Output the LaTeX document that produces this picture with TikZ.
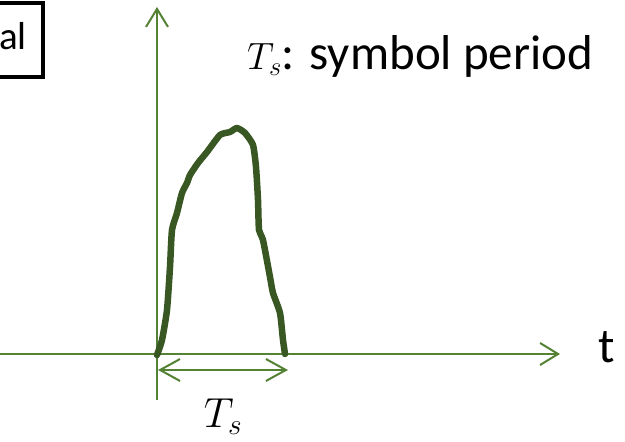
\RequirePackage{fix-cm}
\documentclass[tikz,border=0pt]{standalone}
\usepackage{fontspec}
\setmainfont{Carlito}
\usetikzlibrary{arrows.meta}
\definecolor{axisgreen}{RGB}{84,130,53}
\definecolor{pulsegreen}{RGB}{56,87,35}
\begin{document}
\begin{tikzpicture}[x=1pt,y=1pt,
  axis/.style={draw=axisgreen, line width=2pt, -{Straight Barb[length=18pt,width=22pt,line width=2pt]}},
  dim/.style={draw=axisgreen, line width=2pt, {Straight Barb[length=20pt,width=22pt,line width=2pt]}-{Straight Barb[length=20pt,width=22pt,line width=2pt]}},
  pulse/.style={draw=pulsegreen, line width=6.5pt, line join=round, line cap=round},
  lbl/.style={inner sep=0pt, font=\fontsize{49}{52}\selectfont}]
\useasboundingbox (0,0) rectangle (625,442);
\clip (0,0) rectangle (625,442);
% partial box at top-left
\draw[line width=3.5pt] (-80,439) rectangle (43,365);
\node[lbl, anchor=base east, font=\fontsize{39}{40}\selectfont] (boxtext) at (27,392) {al};
% axes
\coordinate (yb) at (157,42);
\coordinate (yt) at (157,435);
\coordinate (xl) at (-5,88);
\coordinate (xr) at (560,88);
\draw[axis] (yb) -- (yt);
\draw[axis] (xl) -- (xr);
\node[lbl, anchor=base west] (t) at (598,79) {t};
% pulse
\draw[pulse] plot[smooth, tension=0.35] coordinates {
 (157,87) (162,102) (167,132) (170,175) (172,212) (177,229) (182,249) (187,259)
 (190,267) (198,279) (207,290) (220,307) (230,310) (237,314) (245,309) (253,297)
 (256,275) (258,242) (259,212) (263,202) (270,165) (273,149) (280,129) (283,102) (285,88)};
% dimension arrow
\coordinate (da) at (158,72);
\coordinate (db) at (288,72);
\draw[dim] (da) -- (db);
\node[inner sep=0pt, anchor=base, font=\fontsize{42}{46}\selectfont] (tslbl) at (223,14) {$T_s$};
% top label
\node[lbl, anchor=base west] (title) at (247,372) {{\fontsize{38}{42}\selectfont$T_s$}: symbol period};
\end{tikzpicture}
\end{document}
